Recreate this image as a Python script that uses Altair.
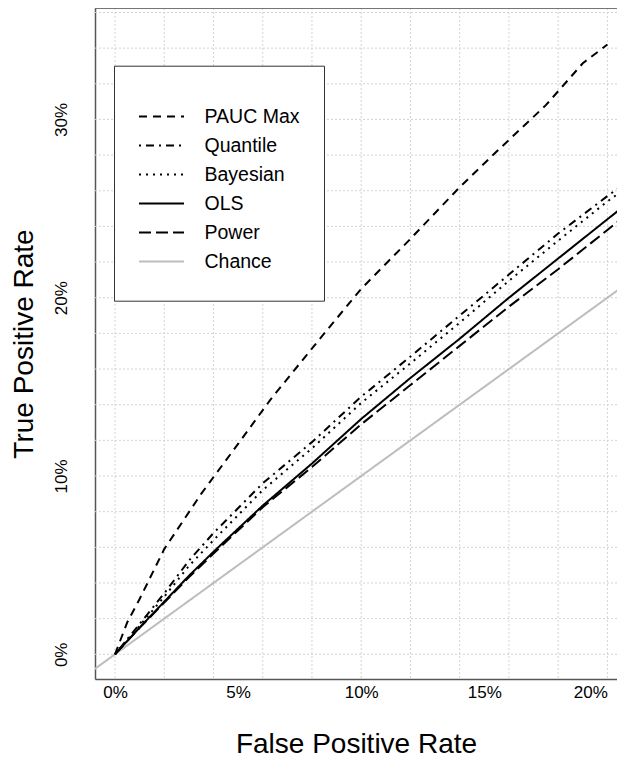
import altair as alt
import pandas as pd

methods = ["PAUC Max", "Quantile", "Bayesian", "OLS", "Power", "Chance"]

fpr_pauc = [0, 0.005, 0.01, 0.02, 0.035, 0.05, 0.063, 0.085, 0.10, 0.12, 0.14, 0.155, 0.175, 0.19, 0.20]
tpr_pauc = [0, 0.018, 0.031, 0.059, 0.090, 0.118, 0.1426, 0.180, 0.205, 0.233, 0.262, 0.282, 0.308, 0.3315, 0.342]

fpr_common = [0, 0.01, 0.02, 0.03, 0.04, 0.06, 0.08, 0.10, 0.12, 0.14, 0.16, 0.18, 0.20, 0.21]
tpr_quantile = [0, 0.017, 0.0342, 0.0525, 0.068, 0.0959, 0.119, 0.1445, 0.167, 0.190, 0.213, 0.236, 0.257, 0.267]
tpr_bayesian = [0, 0.016, 0.0323, 0.0495, 0.064, 0.0921, 0.1155, 0.141, 0.1632, 0.186, 0.2095, 0.232, 0.254, 0.264]
tpr_ols = [0, 0.015, 0.0295, 0.044, 0.0575, 0.0834, 0.107, 0.132, 0.155, 0.177, 0.2000, 0.222, 0.244, 0.255]
tpr_power = [0, 0.0148, 0.029, 0.0432, 0.0565, 0.0825, 0.105, 0.129, 0.151, 0.173, 0.195, 0.216, 0.238, 0.249]

fpr_chance = [-0.01, 0.21]
tpr_chance = [-0.01, 0.21]

x_ticks = [0, 0.05, 0.10, 0.15, 0.20]
y_ticks = [0, 0.10, 0.20, 0.30]
grid_x = [0, 0.02, 0.04, 0.06, 0.08, 0.10, 0.12, 0.14, 0.16, 0.18, 0.20]
grid_y = [0, 0.02, 0.04, 0.06, 0.08, 0.10, 0.12, 0.14, 0.16, 0.18, 0.20,
          0.22, 0.24, 0.26, 0.28, 0.30, 0.32, 0.34, 0.36]

rows = []
def add(name, xs, ys):
    for a, b in zip(xs, ys):
        rows.append({"method": name, "fpr": a, "tpr": b})

add("PAUC Max", fpr_pauc, tpr_pauc)
add("Quantile", fpr_common, tpr_quantile)
add("Bayesian", fpr_common, tpr_bayesian)
add("OLS", fpr_common, tpr_ols)
add("Power", fpr_common, tpr_power)
add("Chance", fpr_chance, tpr_chance)
df = pd.DataFrame(rows)

W, H = 522, 671
FONT = "Liberation Sans"
xdom = [-0.00812, 0.2039]
ydom = [-0.01385, 0.3625]

xscale = alt.Scale(domain=xdom, nice=False, zero=False)
yscale = alt.Scale(domain=ydom, nice=False, zero=False)

legend = alt.Legend(
    title=" ", titleFontSize=6, titlePadding=6.5, orient="none", legendX=19, legendY=57.7, padding=24,
    symbolType="stroke", symbolSize=2025, labelFontSize=19.5, labelFont=FONT,
    labelColor="black", labelOffset=19.5, clipHeight=28.7, rowPadding=0,
    strokeColor="#333333", fillColor="white",
)

color = alt.Color("method:N", scale=alt.Scale(domain=methods, range=["black"] * 5 + ["#bdbdbd"]), legend=legend)
dash = alt.StrokeDash("method:N", scale=alt.Scale(domain=methods, range=[[8, 6], [2, 5, 8, 5], [2, 5], [1, 0], [12, 5], [1, 0]]), legend=legend)
sw = alt.StrokeWidth("method:N", scale=alt.Scale(domain=methods, range=[2, 2, 2, 2, 2, 0.9]), legend=legend)

xaxis = alt.Axis(
    values=x_ticks, format=".0%", labelFontSize=17, labelFont=FONT, labelColor="black",
    labelFlush=12,
    ticks=False, grid=False, domainColor="#555555", domainWidth=1.5, labelPadding=5,
    title="False Positive Rate", titleFontSize=28, titleFont=FONT, titleFontWeight="normal",
    titleColor="black", titlePadding=30)
yaxis = alt.Axis(
    values=y_ticks, format=".0%", labelFontSize=17, labelFont=FONT, labelColor="black",
    labelAngle=270, labelAlign="center", labelBaseline="bottom",
    ticks=False, grid=False, domainColor="#555555", domainWidth=1.5, labelPadding=25,
    title="True Positive Rate", titleFontSize=28, titleFont=FONT, titleFontWeight="normal",
    titleColor="black", titlePadding=14)

xenc = alt.X("fpr:Q", scale=xscale, axis=xaxis)
yenc = alt.Y("tpr:Q", scale=yscale, axis=yaxis)

gx = alt.Chart(pd.DataFrame({"fpr": grid_x})).mark_rule(color="#d3d3d3", strokeWidth=1, strokeDash=[2, 2]).encode(
    x=xenc)
gy = alt.Chart(pd.DataFrame({"tpr": grid_y})).mark_rule(color="#d3d3d3", strokeWidth=1, strokeDash=[2, 2]).encode(
    y=yenc)

base = alt.Chart(df)
chance = base.transform_filter(alt.datum.method == "Chance").mark_line(clip=True).encode(
    x=xenc, y=yenc, color=color, strokeDash=dash, strokeWidth=sw)
others = base.transform_filter(alt.datum.method != "Chance").mark_line(clip=True).encode(
    x=xenc, y=yenc, color=color, strokeDash=dash, strokeWidth=sw, detail="method:N")

top = alt.Chart(pd.DataFrame({"a": [0]})).mark_rule(color="#555555", strokeWidth=1.5).encode(
    y=alt.value(0), x=alt.value(0), x2=alt.value(W))

chart = alt.layer(gx, gy, chance, others, top).properties(
    width=W, height=H,
    autosize=alt.AutoSizeParams(type="none"),
    padding={"left": 87, "top": 0, "right": 0, "bottom": 84},
).configure_view(strokeWidth=0).configure(background="white")

chart.save("out.html", embed_options={"renderer": "svg", "actions": False})
